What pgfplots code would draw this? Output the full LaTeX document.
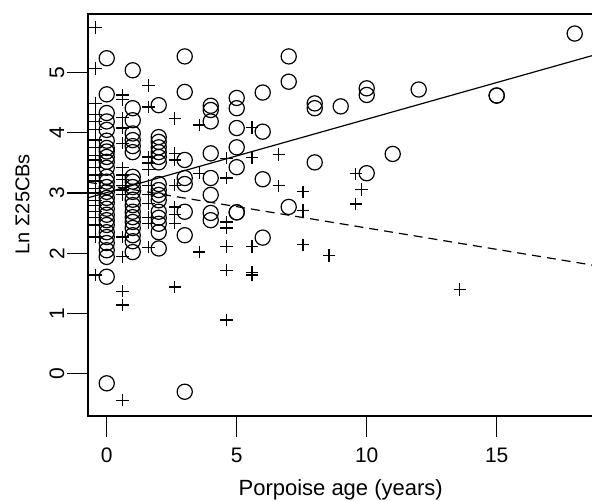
\documentclass[border=0pt]{standalone}
\usepackage{fontspec}
\setmainfont{Liberation Sans}
\usepackage{pgfplots}
\pgfplotsset{compat=1.18}
\begin{document}
\fontsize{10.5}{12}\selectfont
\begin{tikzpicture}
\path[use as bounding box] (-44pt,-42.5pt) rectangle (252pt,208pt);
\begin{axis}[
  at={(0,0)}, anchor=south west,
  scale only axis, width=252.7pt, height=201pt,
  xmin=-0.72, xmax=18.72, ymin=-0.703, ymax=5.975,
  xtick={0,5,10,15}, ytick={0,1,2,3,4,5},
  tick pos=left, tick align=outside,
  major tick length=10.5pt,
  tick style={line width=0.6pt, black},
  axis line style={line width=0.6pt},
  /pgf/number format/assume math mode=true,
  font=\fontsize{10.5}{12}\selectfont,
  xticklabel style={anchor=center, yshift=-9pt, font=\fontsize{10.5}{12}\selectfont},
  yticklabel style={anchor=center, xshift=-5pt, rotate=90, font=\fontsize{10.5}{12}\selectfont},
  xlabel={Porpoise age (years)},
  ylabel={Ln Σ25CBs},
  xlabel style={at={(axis description cs:0.5,-0.184)}, anchor=center, font=\fontsize{11}{13}\selectfont},
  ylabel style={at={(axis description cs:-0.1296,0.527)}, anchor=center, font=\fontsize{10}{12}\selectfont},
  clip=true,
]
% circles
\addplot[only marks, mark=o, mark size=3.8pt, mark options={line width=0.6pt}] table {
x y
0 5.24
0 4.64
0 4.33
0 4.19
0 4.05
0 3.87
0 3.75
0 3.69
0 3.60
0 3.52
0 3.42
0 3.27
0 3.19
0 3.10
0 3.02
0 2.92
0 2.84
0 2.74
0 2.64
0 2.55
0 2.47
0 2.35
0 2.27
0 2.17
0 2.05
0 1.94
0 1.61
0 -0.16
1 5.04
1 4.41
1 4.21
1 3.99
1 3.88
1 3.78
1 3.68
1 3.27
1 3.19
1 3.10
1 3.02
1 2.89
1 2.80
1 2.69
1 2.60
1 2.52
1 2.42
1 2.30
1 2.20
1 2.02
2 4.46
2 3.93
2 3.85
2 3.76
2 3.68
2 3.60
2 3.51
2 3.15
2 3.05
2 2.97
2 2.88
2 2.69
2 2.59
2 2.49
2 2.35
2 2.08
3 5.27
3 4.68
3 3.55
3 3.25
3 3.15
3 2.69
3 2.30
3 -0.30
4 4.45
4 4.38
4 4.19
4 3.66
4 3.25
4 2.97
4 2.67
4 2.55
5 4.58
5 4.41
5 4.08
5 3.76
5 3.43
5 2.68
5 2.68
6 4.67
6 4.02
6 3.23
6 2.26
7 5.27
7 4.85
7 2.77
8 4.49
8 4.41
8 3.51
9 4.44
10 4.74
10 4.63
10 3.33
11 3.65
12 4.72
15 4.62
15 4.62
18 5.65
};
% pluses
\addplot[only marks, mark=+, mark size=3.1pt, mark options={line width=0.6pt}] table {
x y
-0.43 5.75
-0.43 5.07
-0.43 4.49
-0.43 4.30
-0.43 4.19
-0.43 4.05
-0.43 3.88
-0.43 3.76
-0.43 3.63
-0.43 3.55
-0.43 3.42
-0.43 3.30
-0.43 3.20
-0.43 3.08
-0.43 3.00
-0.43 2.88
-0.43 2.80
-0.43 2.69
-0.43 2.59
-0.43 2.47
-0.43 2.27
-0.43 1.64
0.6 4.63
0.6 4.55
0.6 4.25
0.6 4.08
0.6 3.83
0.6 3.42
0.6 3.30
0.6 3.22
0.6 3.13
0.6 3.05
0.6 2.97
0.6 2.27
0.6 1.94
0.6 1.37
0.6 1.14
0.6 -0.44
1.6 4.79
1.6 4.43
1.6 3.60
1.6 3.50
1.6 3.39
1.6 3.13
1.6 2.97
1.6 2.83
1.6 2.60
1.6 2.50
1.6 2.10
2.62 4.24
2.62 3.66
2.62 3.55
2.62 3.13
2.62 2.77
2.62 2.64
2.62 2.50
2.62 1.44
3.56 4.13
3.56 3.33
3.56 2.02
4.6 3.58
4.6 3.25
4.6 2.52
4.6 2.42
4.6 2.11
4.6 1.72
4.6 0.89
5.59 4.09
5.59 3.59
5.59 2.11
5.59 1.68
5.59 1.64
6.62 3.64
6.62 3.12
7.55 3.02
7.55 2.71
7.55 2.14
8.55 1.96
8.55 1.96
9.58 3.32
9.58 2.82
9.8 3.06
13.58 1.40
};
% regression lines
\addplot[line width=0.6pt] coordinates {(-0.72,2.921) (18.72,5.289)};
\addplot[line width=0.6pt, dash pattern=on 4.5pt off 3pt] coordinates {(-0.72,3.181) (18.72,1.801)};
\end{axis}
\end{tikzpicture}
\end{document}
